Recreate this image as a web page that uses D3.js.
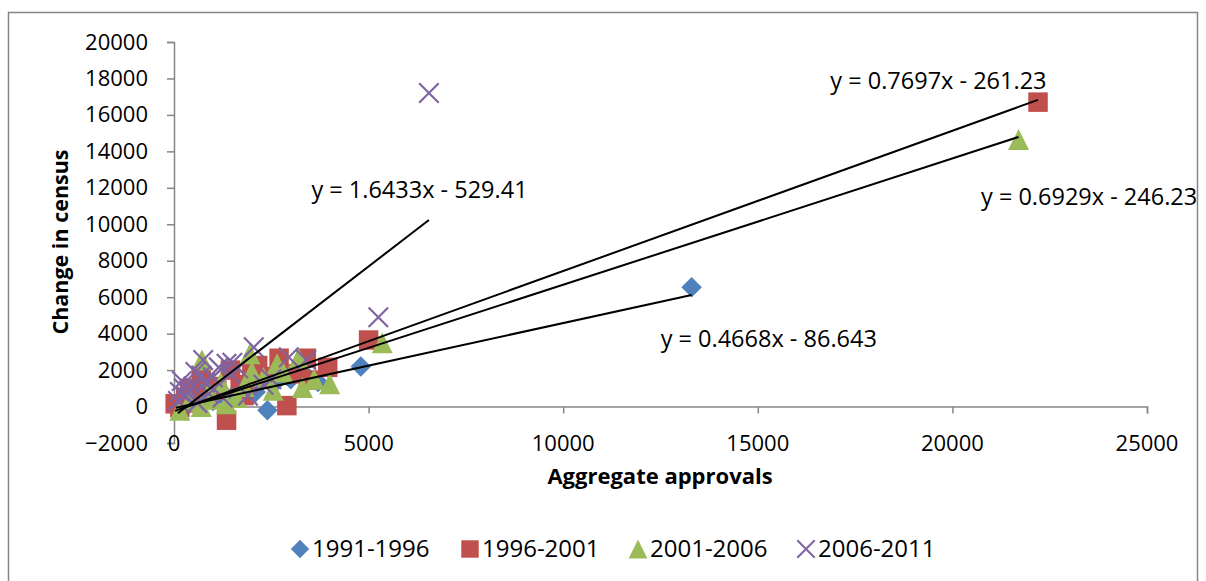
<!DOCTYPE html>
<html lang="en">

<head>
  <meta charset="utf-8">
  <script src="https://cdn.jsdelivr.net/npm/d3@7"></script>
</head>

<style>
  body{
    margin:0;
    background-color:white;
  }
  text{
    font-family:"Open Sans",sans-serif;
    fill:black;
  }
</style>

<body>
  <div id="chart"></div>

  <script type="text/javascript">
    //Data: [aggregate approvals, change in census]
    var s1991=[[13300,6550],[4800,2200],[2400,-200],[3700,1350],[3400,1700],[50,100],[150,-100],[250,300],[400,200],[600,150],[800,400],[1000,300],[1200,700],[1500,500],[1800,900],[2100,800],[2600,1300],[3000,1500],[300,0],[100,50],[700,600],[2900,1700]];
    var s1996=[[22200,16700],[5000,3650],[3950,2150],[3400,2650],[2700,2650],[2900,50],[1350,-750],[700,1600],[1450,2000],[2150,2250],[3450,1450],[30,150],[2300,1650],[300,400],[500,800],[900,1100],[1100,900],[1700,1200],[600,200],[150,-50],[2000,1800],[3200,1800],[1800,600],[400,1000]];
    var s2001=[[21700,14650],[5350,3500],[720,2550],[1950,2900],[2650,2350],[3200,2650],[4000,1250],[3300,1050],[2550,900],[1350,150],[150,-200],[700,0],[1000,400],[2000,1900],[1600,500],[3600,1500],[2300,1600],[400,300],[1200,1300],[1800,1100],[2800,1900],[900,800]];
    var s2006=[[6550,17200],[5250,4900],[2050,3250],[750,2550],[2950,2700],[3400,2550],[1350,2350],[200,1400],[1500,2400],[1150,2150],[1650,2100],[800,1300],[400,900],[300,600],[100,300],[500,1100],[600,200],[1900,600],[2500,1500],[2300,1200],[1000,1600],[1250,500],[250,1000],[1450,1800],[900,700],[550,1900],[700,1700],[150,800]];

    var seriesNames=["1991-1996","1996-2001","2001-2006","2006-2011"];
    var seriesColors=["#4F81BD","#C0504D","#9BBB59","#8064A2"];
    var slopes=[0.4668,0.7697,0.6929,1.6433];
    var intercepts=[-86.643,-261.23,-246.23,-529.41];
    var eqLabels=["y = 0.4668x - 86.643","y = 0.7697x - 261.23","y = 0.6929x - 246.23","y = 1.6433x - 529.41"];
    //where each equation label sits, in data units
    var eqAnchors=[[15282,3736],[19641,17857],[23513,11484],[6308,11868]];

    var xTicks=[0,5000,10000,15000,20000,25000];
    var yTicks=[-2000,0,2000,4000,6000,8000,10000,12000,14000,16000,18000,20000];

    var allSeries=[s1991,s1996,s2001,s2006];

    var width=1206;
    var height=581;
    var axisColor="#868686";

    var svg=d3.select("#chart")
      .append("svg")
      .attr("width",width)
      .attr("height",height);

    //Outer border
    svg.append("rect")
      .attr("x",8.5)
      .attr("y",12.5)
      .attr("width",1189)
      .attr("height",600)
      .attr("fill","white")
      .attr("stroke",axisColor)
      .attr("stroke-width",1.5);

    var x=d3.scaleLinear().domain([0,25000]).range([174,1147]);
    var y=d3.scaleLinear().domain([-2000,20000]).range([443,42]);

    //Marker shapes
    var diamond={draw:function(ctx,size){
      var r=Math.sqrt(size)/2;
      ctx.moveTo(0,-r);ctx.lineTo(r,0);ctx.lineTo(0,r);ctx.lineTo(-r,0);ctx.closePath();
    }};
    var square={draw:function(ctx,size){
      var r=Math.sqrt(size)/2;
      ctx.rect(-r,-r,2*r,2*r);
    }};
    var triangle={draw:function(ctx,size){
      var r=Math.sqrt(size)/2;
      ctx.moveTo(0,-r);ctx.lineTo(r,r);ctx.lineTo(-r,r);ctx.closePath();
    }};
    var cross={draw:function(ctx,size){
      var r=Math.sqrt(size)/2;
      ctx.moveTo(-r,-r);ctx.lineTo(r,r);ctx.moveTo(r,-r);ctx.lineTo(-r,r);
    }};
    var shapes=[diamond,square,triangle,cross];
    var sizes=[420,380,440,380];

    //Y axis
    var yAxis=svg.append("g")
      .attr("transform","translate("+x(0)+",0)")
      .call(d3.axisLeft(y).tickValues(yTicks).tickSize(7).tickPadding(19).tickFormat(d3.format("d")));

    //X axis sits on y=0, labels sit low
    var xAxis=svg.append("g")
      .attr("transform","translate(0,"+y(0)+")")
      .call(d3.axisBottom(x).tickValues(xTicks).tickSize(7).tickFormat(""));

    svg.selectAll(".domain").attr("stroke",axisColor).attr("stroke-width",1.5);
    svg.selectAll(".tick line").attr("stroke",axisColor).attr("stroke-width",1.5);
    yAxis.selectAll("text").style("font-size","22px").style("font-family","'Open Sans',sans-serif").attr("fill","black");

    svg.append("g")
      .selectAll("text")
      .data(xTicks)
      .enter()
      .append("text")
      .attr("x",function(d){return x(d);})
      .attr("y",y(-2000))
      .attr("dy","0.35em")
      .attr("text-anchor","middle")
      .style("font-size","22px")
      .text(function(d){return d;});

    //Axis titles
    svg.append("text")
      .attr("x",660)
      .attr("y",476)
      .attr("dy","0.35em")
      .attr("text-anchor","middle")
      .style("font-size","22px")
      .style("font-weight","bold")
      .text("Aggregate approvals");

    svg.append("text")
      .attr("transform","translate(60,"+242+") rotate(-90)")
      .attr("dy","0.35em")
      .attr("text-anchor","middle")
      .style("font-size","21.5px")
      .style("font-weight","bold")
      .text("Change in census");

    //Points
    allSeries.forEach(function(data,i){
      svg.append("g")
        .selectAll("path")
        .data(data)
        .enter()
        .append("path")
        .attr("transform",function(d){return "translate("+x(d[0])+","+y(d[1])+")";})
        .attr("d",d3.symbol().type(shapes[i]).size(sizes[i]))
        .attr("fill",i==3?"none":seriesColors[i])
        .attr("stroke",i==3?seriesColors[i]:"none")
        .attr("stroke-width",2.2);
    });

    //Linear trendlines over each series' x range
    allSeries.forEach(function(data,i){
      var ext=d3.extent(data,function(d){return d[0];});
      svg.append("line")
        .attr("x1",x(ext[0]))
        .attr("y1",y(slopes[i]*ext[0]+intercepts[i]))
        .attr("x2",x(ext[1]))
        .attr("y2",y(slopes[i]*ext[1]+intercepts[i]))
        .attr("stroke","black")
        .attr("stroke-width",2);
    });

    svg.append("g")
      .selectAll("text")
      .data(eqLabels)
      .enter()
      .append("text")
      .attr("x",function(d,i){return x(eqAnchors[i][0]);})
      .attr("y",function(d,i){return y(eqAnchors[i][1]);})
      .attr("dy","0.35em")
      .attr("text-anchor","middle")
      .style("font-size","23.5px")
      .text(function(d){return d;});

    //Legend
    var legendX=[300,470,638,806];
    var legend=svg.append("g")
      .selectAll("g")
      .data(seriesNames)
      .enter()
      .append("g")
      .attr("transform",function(d,i){return "translate("+legendX[i]+",549)";});

    legend.append("path")
      .attr("d",function(d,i){return d3.symbol().type(shapes[i]).size(sizes[i]*0.8)();})
      .attr("fill",function(d,i){return i==3?"none":seriesColors[i];})
      .attr("stroke",function(d,i){return i==3?seriesColors[i]:"none";})
      .attr("stroke-width",2);

    legend.append("text")
      .attr("x",12)
      .attr("dy","0.35em")
      .style("font-size","24px")
      .text(function(d){return d;});
  </script>
</body>

</html>
